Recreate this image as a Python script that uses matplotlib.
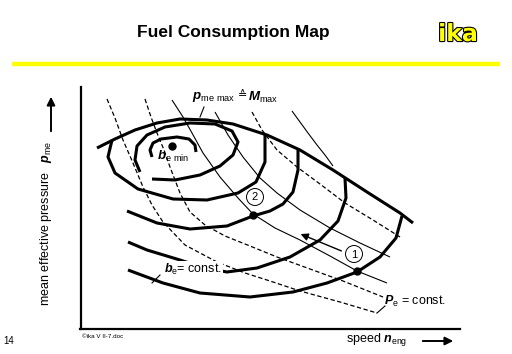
import numpy as np
import matplotlib
matplotlib.use('Agg')
import matplotlib.pyplot as plt
import matplotlib.patheffects as pe
from matplotlib.patches import Circle

plt.rcParams['font.family'] = ['Liberation Sans', 'DejaVu Sans']
plt.rcParams['mathtext.fontset'] = 'custom'
plt.rcParams['mathtext.rm'] = 'Liberation Sans'
plt.rcParams['mathtext.it'] = 'Liberation Sans:italic:bold'
plt.rcParams['mathtext.bf'] = 'Liberation Sans:bold'

# schematic curves (x = speed, y = pressure, image units)
full_load = [(97, 148), (115, 139), (135, 130), (157, 123), (180, 119), (207, 120),
             (233, 124), (267, 135), (300, 150), (333, 170), (367, 192), (400, 213), (413, 223)]

# b_e = const. contours, innermost first
be_min_hook = [(152, 157), (150, 150), (153, 143), (161, 139), (177, 137), (189, 139),
               (195, 145), (196, 152)]
be_loop_2 = [(140, 172), (135, 160), (137, 146), (147, 135), (165, 127), (190, 123),
             (215, 124), (232, 131), (238, 142), (233, 155), (220, 166), (200, 175),
             (175, 180), (152, 179)]
be_loop_3 = [(112, 140), (108, 157), (115, 173), (138, 189), (173, 199), (207, 200),
             (238, 193), (256, 182), (265, 162), (265, 134)]
be_loop_4 = [(127, 211), (157, 223), (190, 229), (227, 226), (253, 216), (270, 211),
             (283, 204), (293, 192), (298, 170), (298, 150)]
be_loop_5 = [(128, 242), (147, 250), (180, 260), (205, 268), (227, 272), (257, 268),
             (290, 257), (320, 240), (338, 221), (346, 198), (345, 178)]
be_loop_6 = [(128, 270), (163, 283), (200, 293), (250, 297), (293, 292), (327, 283),
             (357, 272), (380, 257), (396, 238), (402, 216)]

# P_e = const. (dashed)
pe_line_1 = [(107, 99), (115, 118), (123, 140), (133, 163), (143, 187), (152, 205),
             (163, 222), (185, 245), (217, 262), (245, 273), (270, 281), (300, 291),
             (340, 302), (377, 313)]
pe_line_2 = [(145, 99), (151, 117), (157, 133), (164, 150), (170, 167), (180, 193),
             (190, 212), (205, 225), (225, 236), (250, 246), (277, 257), (310, 269),
             (343, 281), (383, 297)]
pe_line_3 = [(252, 112), (262, 130), (277, 150), (297, 167), (320, 184), (345, 203),
             (373, 220), (400, 237)]

# thin solid lines
thin_1 = [(172, 100), (183, 117), (192, 133), (203, 153), (220, 177), (238, 198),
          (253, 214), (275, 228), (300, 240), (330, 256), (357, 271), (387, 283)]
thin_2 = [(215, 112), (228, 135), (243, 157), (260, 178), (277, 193), (300, 210),
          (330, 228), (360, 243), (390, 257)]
thin_3 = [(292, 111), (300, 122), (308, 133), (317, 145), (325, 155), (333, 166)]

points = {'1': (357, 271), '2': (253, 215)}
labels_pos = {'1': (354, 254), '2': (255, 197)}
be_min_point = (172, 146)

fig = plt.figure(figsize=(5.12, 3.54), dpi=100)
ax = fig.add_axes([0, 0, 1, 1])
ax.set_xlim(0, 512)
ax.set_ylim(354, 0)
ax.axis('off')


def draw(pts, **kw):
    a = np.array(pts)
    ax.plot(a[:, 0], a[:, 1], color='black', solid_capstyle='butt',
            solid_joinstyle='round', **kw)


# header
ax.text(233, 33, 'Fuel Consumption Map', ha='center', va='center',
        fontsize=12.5, fontweight='bold')
ax.text(458, 34, 'ika', ha='center', va='center', fontsize=17, fontweight='bold',
        family='DejaVu Sans', color='#ffff00',
        path_effects=[pe.withStroke(linewidth=1.6, foreground='black')])
ax.plot([12, 500], [64, 64], color='#ffff00', lw=3.2, solid_capstyle='butt')

# axes
ax.plot([81, 81], [87, 329], color='black', lw=1.6)
ax.plot([80, 460], [329, 329], color='black', lw=1.6)
ax.text(46, 223, 'mean effective pressure   $p_{\\rm me}$', rotation=90,
        ha='center', va='center', fontsize=9)
ax.annotate('', xy=(51, 94), xytext=(51, 134),
            arrowprops=dict(arrowstyle='-|>', color='black', lw=1.4,
                            mutation_scale=12))
ax.text(346, 340, 'speed $n_{\\rm eng}$', ha='left', va='center', fontsize=9)
ax.annotate('', xy=(456, 341), xytext=(420, 341),
            arrowprops=dict(arrowstyle='-|>', color='black', lw=1.4,
                            mutation_scale=12))
ax.text(9, 341, '14', ha='center', va='center', fontsize=7)
ax.text(82, 337, '\u00a9ika V II-7.doc', ha='left', va='center', fontsize=4.5)

# curves
for c in [pe_line_1, pe_line_2, pe_line_3]:
    draw(c, lw=0.9, ls=(0, (3.5, 2)))
for c in [thin_1, thin_2, thin_3]:
    draw(c, lw=0.8)
for c in [be_min_hook, be_loop_2, be_loop_3, be_loop_4, be_loop_5, be_loop_6]:
    draw(c, lw=2.2)
draw(full_load, lw=2.2)

# operating points
for k, (px, py) in points.items():
    ax.plot(px, py, 'o', color='black', ms=5, zorder=5)
    cx, cy = labels_pos[k]
    ax.add_patch(Circle((cx, cy), 8.5, facecolor='white', edgecolor='black',
                        lw=0.7, zorder=4))
    ax.text(cx, cy + 0.5, k, ha='center', va='center', fontsize=8, zorder=6)
ax.plot(*be_min_point, 'o', color='black', ms=5, zorder=5)
ax.annotate('', xy=(298, 233), xytext=(344, 252),
            arrowprops=dict(arrowstyle='-|>', color='black', lw=1.0,
                            mutation_scale=11))

# labels
ax.text(192, 97, '$p_{\\rm me\\ max}$', ha='left', va='center', fontsize=9.5)
ax.text(243, 95, '\u2259', ha='center', va='center', fontsize=8, family='DejaVu Sans')
ax.text(248, 97, '$M_{\\rm max}$', ha='left', va='center', fontsize=9.5)
ax.plot([204, 200], [107, 117], color='black', lw=0.8)
ax.text(157, 156, '$b_{\\rm e\\ min}$', ha='left', va='center', fontsize=9.5, zorder=6)
ax.text(164, 269, '$b_{\\rm e}$= const.', ha='left', va='center', fontsize=9,
        zorder=6, bbox=dict(facecolor='white', edgecolor='none', pad=0.5))
ax.plot([152, 160], [283, 275], color='black', lw=0.8)
ax.text(384, 301, '$P_{\\rm e}$ = const.', ha='left', va='center', fontsize=9)
ax.plot([377, 385], [313, 306], color='black', lw=0.8)

fig.savefig('out.png', dpi=100, facecolor='white')
